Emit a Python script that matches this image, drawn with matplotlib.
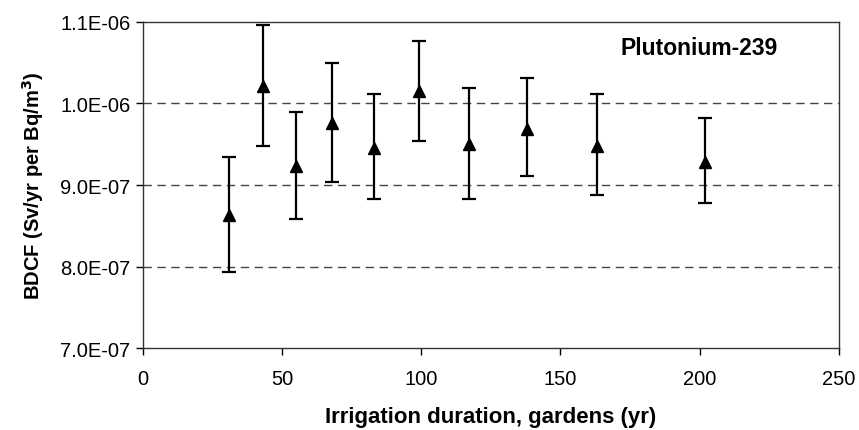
import matplotlib.pyplot as plt
from matplotlib.ticker import FuncFormatter

# irrigation duration (yr) and BDCF values
duration = [31, 43, 55, 68, 83, 99, 117, 138, 163, 202]
bdcf = [8.63e-7, 1.022e-6, 9.23e-7, 9.76e-7, 9.45e-7, 1.015e-6, 9.50e-7, 9.69e-7, 9.48e-7, 9.28e-7]
err_low = [7.94e-7, 9.48e-7, 8.58e-7, 9.04e-7, 8.83e-7, 9.54e-7, 8.83e-7, 9.11e-7, 8.88e-7, 8.78e-7]
err_high = [9.35e-7, 1.096e-6, 9.89e-7, 1.050e-6, 1.012e-6, 1.077e-6, 1.019e-6, 1.031e-6, 1.012e-6, 9.82e-7]

y_ticks = [7e-7, 8e-7, 9e-7, 1e-6, 1.1e-6]
x_ticks = [0, 50, 100, 150, 200, 250]

plt.rcParams['font.family'] = ['Liberation Sans', 'DejaVu Sans']

fig = plt.figure(figsize=(8.59, 4.31), dpi=100)
ax = fig.add_axes([0.1665, 0.1895, 0.81, 0.7575])

lower = [v - lo for v, lo in zip(bdcf, err_low)]
upper = [hi - v for v, hi in zip(bdcf, err_high)]
ax.errorbar(duration, bdcf, yerr=[lower, upper], fmt='^', color='black',
            ms=9, ecolor='black', elinewidth=1.6, capsize=4.7, capthick=1.6, zorder=3)

for y in y_ticks[1:-1]:
    ax.axhline(y, color='#444444', lw=1.0, ls=(0, (6, 4)), zorder=1)

ax.set_xlim(0, 250)
ax.set_ylim(7e-7, 1.1e-6)
ax.set_xticks(x_ticks)
ax.set_yticks(y_ticks)
ax.yaxis.set_major_formatter(FuncFormatter(lambda v, p: f"{v:.1E}"))
ax.tick_params(labelsize=14.5, direction='out', length=5, width=1, colors='black')
ax.tick_params(axis='x', pad=10)
ax.tick_params(axis='y', pad=4)
for s in ax.spines.values():
    s.set_color('#333333')
    s.set_linewidth(1.0)

ax.set_xlabel('Irrigation duration, gardens (yr)', fontsize=16, fontweight='bold', labelpad=13)
ax.set_ylabel('BDCF (Sv/yr per Bq/m$^\\mathbf{3}$)', fontsize=14.5, fontweight='bold', labelpad=10)
ax.text(0.799, 0.922, 'Plutonium-239', transform=ax.transAxes, fontsize=16.5,
        fontweight='bold', ha='center', va='center')

fig.savefig('out.png', dpi=100)
